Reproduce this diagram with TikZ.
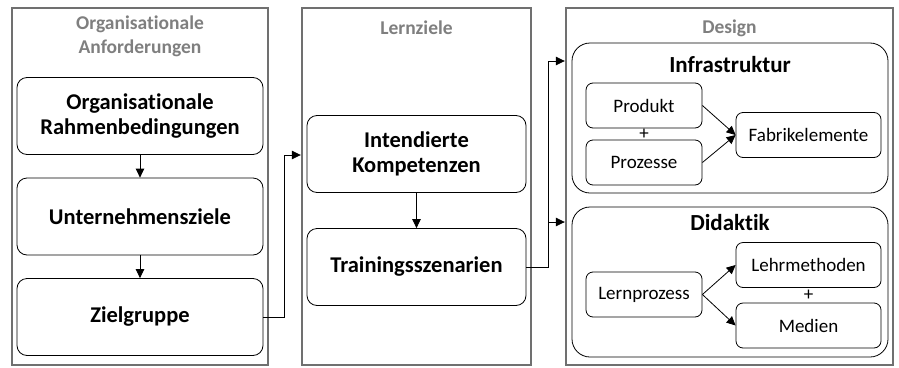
\documentclass[tikz,border=0pt]{standalone}
\usepackage{fontspec}
\setmainfont{Carlito}[Ligatures=NoCommon]
\usetikzlibrary{arrows.meta}
\definecolor{framegray}{HTML}{707070}
\definecolor{titlegray}{HTML}{7F7F7F}
\begin{document}
\begin{tikzpicture}[x=1pt, y=-1pt, >={Triangle[length=9pt,width=8.5pt]}, line width=0.8pt]
		\tikzstyle{column} = [draw=framegray, line width=2.4pt, minimum width=#1, minimum height=357, inner sep=0]
		\tikzstyle{coltitle} = [text=titlegray, font=\bfseries\fontsize{19.5}{24}\selectfont, align=center]
		\tikzstyle{block} = [draw, rounded corners=10pt, minimum width=#1, minimum height=77, align=center, font=\bfseries\fontsize{22.5}{25}\selectfont]
		\tikzstyle{area} = [draw, rounded corners=18pt, minimum width=316, minimum height=150]
		\tikzstyle{areatitle} = [font=\bfseries\fontsize{23}{26}\selectfont]
		\tikzstyle{item} = [draw, rounded corners=7pt, minimum width=#1, minimum height=45, font=\fontsize{19}{22}\selectfont]
		\useasboundingbox[fill=white] (0,0) rectangle (899,367);
		% columns
		\node[column=256](org) at (140,186.5) {};
		\node[column=229](lern) at (416.5,186.5) {};
		\node[column=327](des) at (729.5,186.5) {};
		\node[coltitle](orgT) at (140,36) {Organisationale\\Anforderungen};
		\node[coltitle](lernT) at (416.5,28) {Lernziele};
		\node[coltitle](desT) at (729.5,28) {Design};
		% organisationale Anforderungen
		\node[block=246](rahmen) at (140,116) {Organisationale\\Rahmenbedingungen};
		\node[block=246](ziele) at (140,216.5) {Unternehmensziele};
		\node[block=246](gruppe) at (140,317) {Zielgruppe};
		% Lernziele
		\node[block=219](kompetenz) at (416.5,154) {Intendierte\\Kompetenzen};
		\node[block=219](szenario) at (416.5,267) {Trainingsszenarien};
		% Design
		\node[area](infra) at (730,118) {};
		\node[area](didaktik) at (730,282) {};
		\node[areatitle](infraT) at (730,65) {Infrastruktur};
		\node[areatitle](didaktikT) at (730,223) {Didaktik};
		\node[item=116](produkt) at (644,105.5) {Produkt};
		\node[item=116](prozesse) at (644,162.5) {Prozesse};
		\node[item=145](fabrik) at (808.5,135) {Fabrikelemente};
		\node[font=\fontsize{19}{22}\selectfont](plusA) at (644,134) {+};
		\node[item=116](lernprozess) at (644,294.5) {Lernprozess};
		\node[item=145](methoden) at (808.5,265) {Lehrmethoden};
		\node[item=145](medien) at (808.5,325.5) {Medien};
		\node[font=\fontsize{19}{22}\selectfont](plusB) at (808.5,295) {+};
		% connectors
		\coordinate (k1) at (284,155);
		\coordinate (k2) at (548,61);
		\coordinate (k3) at (548,222);
		\draw[->] (rahmen) -- (ziele);
		\draw[->] (ziele) -- (gruppe);
		\draw[->] (kompetenz) -- (szenario);
		\draw[->] (gruppe.east) -| (k1) -- (lern.west |- k1);
		\draw[->] (szenario.east) -| (k2) -- (des.west |- k2);
		\draw[->] (k3 |- szenario.east) -- (k3) -- (des.west |- k3);
		\draw[->] (produkt.east) -- (fabrik.west);
		\draw[->] (prozesse.east) -- (fabrik.west);
		\draw[->] (lernprozess.east) -- (methoden.west);
		\draw[->] (lernprozess.east) -- (medien.west);
	\end{tikzpicture}
\end{document}
